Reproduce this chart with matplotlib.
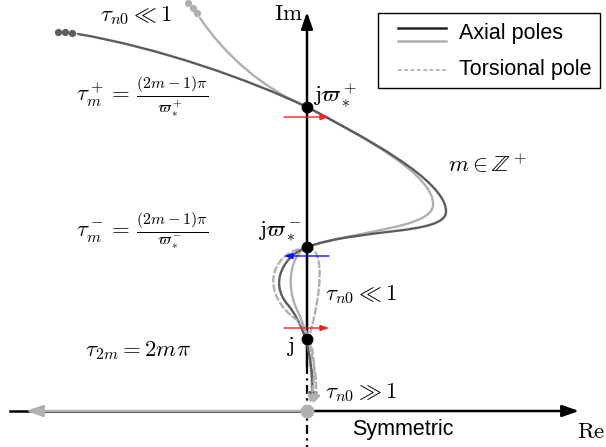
import matplotlib
matplotlib.use("Agg")
import matplotlib.pyplot as plt
from matplotlib.path import Path
from matplotlib.patches import FancyArrowPatch, Rectangle

plt.rcParams['mathtext.fontset'] = 'cm'

# Root-locus sketch drawn in a pixel-like plane (x to the right, y downward)
W, H = 606, 447
origin = (307, 411)

# Points on the imaginary axis
pole_y = {"plus": 107, "minus": 247, "one": 339}

# Cubic Bezier control points for each locus branch
axial_dark = [(78, 34), (160, 48), (250, 80), (307, 107),
              (360, 135), (447, 180), (446, 212),
              (445, 235), (360, 228), (307, 247),
              (285, 255), (268, 282), (288, 305),
              (302, 322), (313, 350), (313, 402)]
axial_light = [(200, 18), (225, 55), (262, 88), (307, 107),
               (360, 135), (435, 175), (433, 205),
               (432, 228), (360, 230), (307, 247),
               (292, 253), (284, 284), (298, 312),
               (308, 332), (312, 362), (312, 402)]
torsion_left = [(307, 247), (266, 254), (262, 296), (297, 320),
                (316, 336), (317, 375), (310, 404)]
torsion_right = [(308, 247), (326, 250), (320, 296), (311, 330),
                 (305, 350), (322, 372), (313, 404)]

dark_dots = [(58, 32), (65, 32), (72, 33)]
light_dots = [(188, 3), (193, 8), (197, 13)]

dark_col = '#5c5c5c'
light_col = '#b0b0b0'

fig = plt.figure(figsize=(W / 100, H / 100), dpi=100)
ax = fig.add_axes([0, 0, 1, 1])
ax.set_xlim(0, W)
ax.set_ylim(H, 0)
ax.axis('off')


def bezier_path(pts):
    codes = [Path.MOVETO] + [Path.CURVE4] * (len(pts) - 1)
    return Path(pts, codes)


# Axes
ax.plot([origin[0], origin[0]], [365, H], color='black', lw=1.6,
        linestyle=(0, (4, 2, 1, 2)), zorder=2)
ax.annotate('', xy=(origin[0], 12), xytext=(origin[0], 366),
            arrowprops=dict(arrowstyle='-|>,head_length=1.0,head_width=0.35',
                            color='black', lw=1.8, shrinkA=0, shrinkB=0), zorder=2)
ax.plot([10, origin[0]], [origin[1], origin[1]], color='black', lw=1.8, zorder=2)
ax.annotate('', xy=(579, origin[1]), xytext=(origin[0], origin[1]),
            arrowprops=dict(arrowstyle='-|>,head_length=1.0,head_width=0.35',
                            color='black', lw=1.8, shrinkA=0, shrinkB=0), zorder=2)
ax.annotate('', xy=(26, origin[1]), xytext=(origin[0], origin[1]),
            arrowprops=dict(arrowstyle='-|>,head_length=1.0,head_width=0.35',
                            color=light_col, lw=1.8, shrinkA=0, shrinkB=0), zorder=3)

# Locus branches
for pts, col, ls in [(axial_light, light_col, '-'), (axial_dark, dark_col, '-'),
                     (torsion_left, light_col, (0, (2.5, 1.5))),
                     (torsion_right, light_col, (0, (2.5, 1.5)))]:
    arr = FancyArrowPatch(path=bezier_path(pts),
                          arrowstyle='-|>,head_length=5,head_width=2.5',
                          color=col, lw=1.7, linestyle=ls, zorder=4)
    ax.add_patch(arr)

xs, ys = zip(*dark_dots)
ax.plot(xs, ys, 'o', color=dark_col, ms=4.2, zorder=4)
xs, ys = zip(*light_dots)
ax.plot(xs, ys, 'o', color=light_col, ms=4.2, zorder=4)

# Crossing points
for y in pole_y.values():
    ax.plot(origin[0], y, 'o', color='black', ms=7.5, zorder=6)
ax.plot(origin[0], origin[1], 'o', color=light_col, ms=9, zorder=6)

# Crossing direction arrows
for y, col, x0, x1 in [(117, '#ff2020', 284, 329), (256, '#1010ff', 329, 284),
                       (328, '#ff2020', 284, 329)]:
    ax.annotate('', xy=(x1, y), xytext=(x0, y),
                arrowprops=dict(arrowstyle='-|>,head_length=0.5,head_width=0.18',
                                color=col, lw=1.0, shrinkA=0, shrinkB=0), zorder=7)

# Labels
fs = 16.5
ax.text(288, 13, r'$\mathrm{Im}$', fontsize=fs, ha='center', va='center')
ax.text(605, 432, r'$\mathrm{Re}$', fontsize=fs, ha='right', va='center')
ax.text(136, 15, r'$\tau_{n0} \ll 1$', fontsize=fs, ha='center', va='center')
ax.text(142, 97, r'$\tau_m^+ = \,\frac{(2m-1)\pi}{\varpi_*^+}$', fontsize=fs,
        ha='center', va='center')
ax.text(142, 231, r'$\tau_m^- = \,\frac{(2m-1)\pi}{\varpi_*^-}$', fontsize=fs,
        ha='center', va='center')
ax.text(138, 350, r'$\tau_{2m} = 2m\pi$', fontsize=fs, ha='center', va='center')
ax.text(488, 165, r'$m \in \mathbb{Z}^+$', fontsize=fs, ha='center', va='center')
ax.text(361, 295, r'$\tau_{n0} \ll 1$', fontsize=fs, ha='center', va='center')
ax.text(361, 393, r'$\tau_{n0} \gg 1$', fontsize=fs, ha='center', va='center')
ax.text(313, 95, r'$\mathrm{j}\varpi_*^+$', fontsize=fs, ha='left', va='center')
ax.text(301, 231, r'$\mathrm{j}\varpi_*^-$', fontsize=fs, ha='right', va='center')
ax.text(290, 347, r'$\mathrm{j}$', fontsize=fs, ha='center', va='center')
ax.text(403, 430, 'Symmetric', fontsize=15.5, family='Liberation Sans',
        ha='center', va='center')

# Legend
ax.add_patch(Rectangle((378, 13), 222, 75, fill=False, edgecolor='black', lw=1.0, zorder=8))
ax.plot([398, 446], [28, 28], color='#222222', lw=1.8, zorder=9)
ax.plot([398, 446], [41, 41], color=light_col, lw=1.8, zorder=9)
ax.plot([398, 446], [70, 70], color=light_col, lw=1.3, linestyle=(0, (2, 1.5)), zorder=9)
ax.text(459, 33, 'Axial poles', fontsize=15.5, family='Liberation Sans', va='center')
ax.text(459, 70, 'Torsional pole', fontsize=15.5, family='Liberation Sans', va='center')

fig.savefig('out.png', dpi=100)
